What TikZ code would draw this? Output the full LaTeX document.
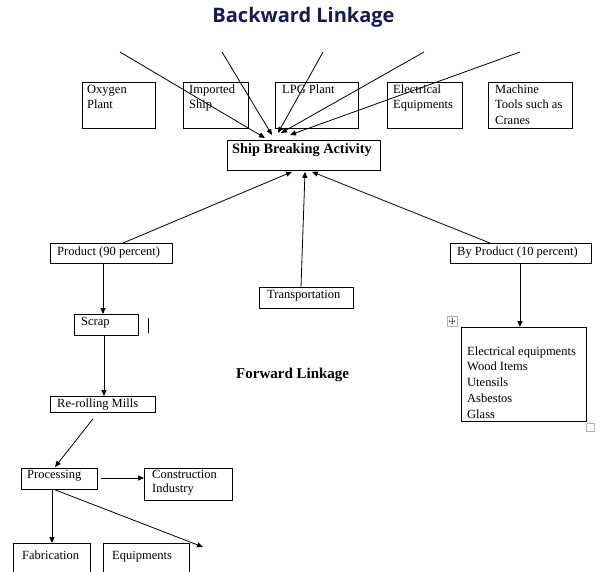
\documentclass[tikz,border=0pt]{standalone}
\usepackage{fontspec}
\setmainfont{Liberation Serif}
\newfontfamily\titlefont{Open Sans}
\usetikzlibrary{arrows.meta}
\definecolor{titleblue}{RGB}{24,24,82}

\tikzset{
  box/.style={draw, line width=0.8pt, anchor=north west, inner sep=0pt},
  txt/.style={anchor=base west, inner sep=0pt, align=left, font=\fontsize{12.5}{15.5}\selectfont},
  arr/.style={line width=0.8pt, -{Triangle[length=6pt,width=5pt]}},
}

\begin{document}
\begin{tikzpicture}[x=1pt,y=-1pt]
\useasboundingbox (0,0) rectangle (600,571);
\clip (0,0) rectangle (600,571);

\node (title) at (303.5,17) {\titlefont\bfseries\fontsize{20}{22}\selectfont\color{titleblue}Backward Linkage};

% inputs (base = last line)
\node[box, minimum width=73, minimum height=46] (oxy) at (82,82) {};
\node[txt] (oxyt) at (87,108.5) {Oxygen\\Plant};
\node[box, minimum width=65, minimum height=46] (imp) at (183,82) {};
\node[txt] (impt) at (189,108.5) {Imported\\Ship};
\node[box, minimum width=83, minimum height=46] (lpg) at (275,82) {};
\node[txt] (lpgt) at (282,93) {LPG Plant};
\node[box, minimum width=75, minimum height=46] (elec) at (387,82) {};
\node[txt] (elect) at (393,108.5) {Electrical\\Equipments};
\node[box, minimum width=84, minimum height=46] (mach) at (488,82) {};
\node[txt] (macht) at (495,124) {Machine\\Tools such as\\Cranes};

\node[box, minimum width=153, minimum height=30] (sba) at (227,140) {};
\node[txt, font=\fontsize{14.3}{16}\selectfont\bfseries] (sbat) at (232,153) {Ship Breaking Activity};

\coordinate (t1) at (120,52);
\coordinate (t2) at (222,52);
\coordinate (t3) at (323,52);
\coordinate (t4) at (424,52);
\coordinate (t5) at (520,52);
\draw[arr] (t1) -- ([shift={(38,-2)}]sba.north west);
\draw[arr] (t2) -- ([shift={(45,-5)}]sba.north west);
\draw[arr] (t3) -- ([shift={(51,-7)}]sba.north west);
\draw[arr] (t4) -- ([shift={(54,-7)}]sba.north west);
\draw[arr] (t5) -- ([shift={(63,-5)}]sba.north west);

% outputs
\node[box, minimum width=122, minimum height=20] (prod) at (50,243) {};
\node[txt] (prodt) at (57,255) {Product (90 percent)};
\node[box, minimum width=94, minimum height=21] (trans) at (259,287) {};
\node[txt] (transt) at (267,298) {Transportation};
\node[box, minimum width=141, minimum height=20] (byp) at (450,243) {};
\node[txt] (bypt) at (457,255) {By Product (10 percent)};

\draw[arr] ([shift={(73,0)}]prod.north west) -- ([shift={(65,1)}]sba.south west);
\draw[arr] ([shift={(42,0)}]trans.north west) -- ([shift={(78,1)}]sba.south west);
\draw[arr] ([shift={(40,0)}]byp.north west) -- ([shift={(85,1)}]sba.south west);

\node[box, minimum width=64, minimum height=21] (scrap) at (74,314) {};
\node[txt] (scrapt) at (81,325) {Scrap};
\draw[line width=0.7pt] (148,318) -- (148,333);
\node[box, minimum width=105, minimum height=16] (roll) at (50,396) {};
\node[txt] (rollt) at (57,407) {Re-rolling Mills};

\draw[arr] ([shift={(53,0)}]prod.south west) -- ([shift={(29,0)}]scrap.north west);
\draw[arr] ([shift={(30,0)}]scrap.south west) -- ([shift={(54,0)}]roll.north west);

\node[txt, font=\fontsize{15}{17}\selectfont\bfseries] (fwd) at (236,378) {Forward Linkage};

\node[box, minimum width=125, minimum height=94] (list) at (461,327) {};
\node[txt, font=\fontsize{12.5}{15.75}\selectfont] (listt) at (467,418) {Electrical equipments\\Wood Items\\Utensils\\Asbestos\\Glass};
\draw[arr] ([shift={(70,0)}]byp.south west) -- ([shift={(59,0)}]list.north west);

% word handles
\draw[gray!60, line width=0.6pt] (447,316) rectangle (457,326);
\draw[gray!80!black, line width=0.45pt, {Stealth[length=1.6pt,width=2pt]}-{Stealth[length=1.6pt,width=2pt]}] (448.5,321) -- (455.5,321);
\draw[gray!80!black, line width=0.45pt, {Stealth[length=1.6pt,width=2pt]}-{Stealth[length=1.6pt,width=2pt]}] (452,317.5) -- (452,324.5);
\draw[gray!60, line width=0.6pt] (586,423) rectangle (594,431);

% processing
\node[box, minimum width=76, minimum height=21] (proc) at (21,468) {};
\node[txt] (proct) at (27,478) {Processing};
\node[box, minimum width=88, minimum height=32] (cons) at (144,468) {};
\node[txt, font=\fontsize{12.5}{14}\selectfont] (const) at (152,492) {Construction\\Industry};
\node[box, minimum width=77, minimum height=40] (fab) at (13,543) {};
\node[txt] (fabt) at (22,559) {Fabrication};
\node[box, minimum width=86, minimum height=40] (equip) at (103,543) {};
\node[txt] (equipt) at (112,559) {Equipments};
\coordinate (eqend) at (203,547);

\draw[arr] ([shift={(43,6)}]roll.south west) -- ([shift={(34,-1)}]proc.north west);
\draw[arr] ([shift={(3,10)}]proc.north east) -- ([shift={(0,10)}]cons.north west);
\draw[arr] ([shift={(31,0)}]proc.south west) -- ([shift={(39,0)}]fab.north west);
\draw[arr] ([shift={(34,0)}]proc.south west) -- (eqend);
\end{tikzpicture}
\end{document}
